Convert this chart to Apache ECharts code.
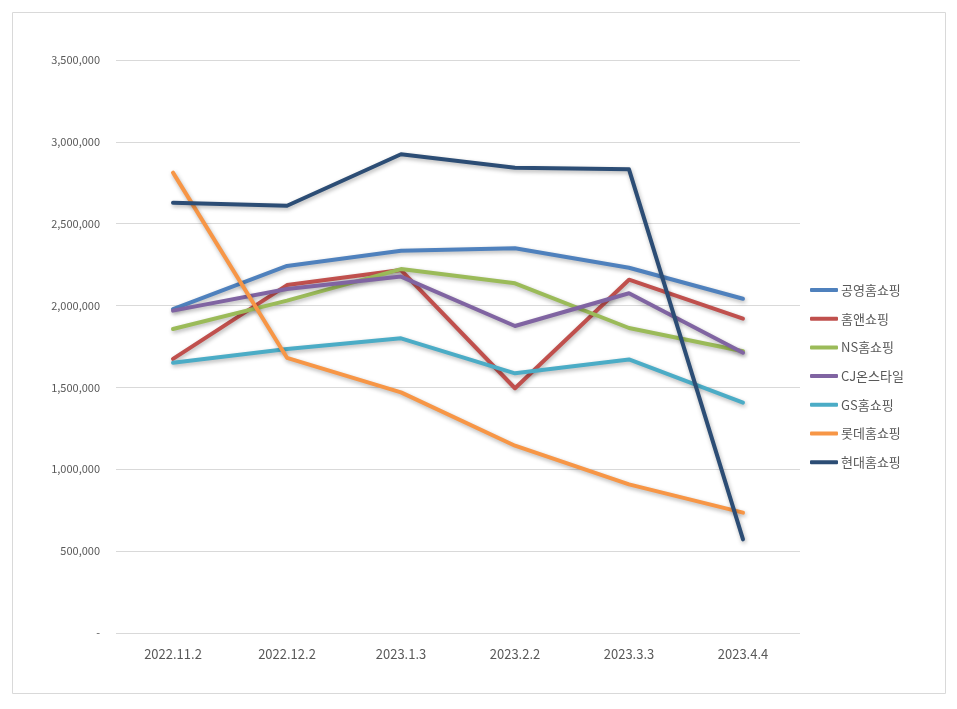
<!DOCTYPE html>
<html>
<head>
<meta charset="utf-8">
<script src="https://cdn.jsdelivr.net/npm/echarts@6/dist/echarts.min.js"></script>
<style>
html,body{margin:0;padding:0;background:#fff;}
#c{width:957px;height:709px;}
</style>
</head>
<body>
<div id="c"></div>
<script>
var categories = ['2022.11.2','2022.12.2','2023.1.3','2023.2.2','2023.3.3','2023.4.4'];
var seriesNames = ['공영홈쇼핑','홈앤쇼핑','NS홈쇼핑','CJ온스타일','GS홈쇼핑','롯데홈쇼핑','현대홈쇼핑'];
var gongyeong = [1979000, 2242000, 2335000, 2350000, 2231000, 2042000];
var homeand   = [1674000, 2125000, 2217000, 1495000, 2158000, 1920000];
var ns        = [1857000, 2030000, 2223000, 2136000, 1863000, 1721000];
var cj        = [1969000, 2101000, 2177000, 1875000, 2075000, 1712000];
var gs        = [1651000, 1735000, 1800000, 1586000, 1671000, 1407000];
var lotte     = [2812000, 1681000, 1470000, 1144000, 908000, 735000];
var hyundai   = [2628000, 2610000, 2924000, 2842000, 2832000, 572000];
var yTicks = {min: 0, max: 3500000, interval: 500000};

var values = [gongyeong, homeand, ns, cj, gs, lotte, hyundai];
var colors = ['#4F81BD','#C0504D','#9BBB59','#8064A2','#4BACC6','#F79646','#2C4D75'];
var font = '"Noto Sans CJK KR", "Noto Sans", sans-serif';

var chart = echarts.init(document.getElementById('c'), null, {renderer:'canvas'});
chart.setOption({
  animation: false,
  textStyle: {fontFamily: font},
  graphic: [{
    type: 'rect', silent: true,
    shape: {x: 12.5, y: 12.5, width: 933, height: 681},
    style: {fill: 'none', stroke: '#D9D9D9', lineWidth: 1}
  }],
  grid: {left: 116, right: 157, top: 60, bottom: 76, containLabel: false},
  legend: {
    orient: 'vertical', left: 805, top: 277,
    itemWidth: 28, itemHeight: 4, itemGap: 12.7,
    icon: 'roundRect',
    textStyle: {fontSize: 13, color: '#595959', fontFamily: font, lineHeight: 16, padding: [0,0,0,-2]},
    data: seriesNames
  },
  xAxis: {
    type: 'category', data: categories, boundaryGap: true,
    axisLine: {show: false}, axisTick: {show: false},
    axisLabel: {fontSize: 13, color: '#595959', margin: 15, fontFamily: font}
  },
  yAxis: {
    type: 'value', min: yTicks.min, max: yTicks.max, interval: yTicks.interval,
    axisLine: {show: false}, axisTick: {show: false},
    splitLine: {lineStyle: {color: '#D9D9D9', width: 1}},
    axisLabel: {
      fontSize: 11, color: '#595959', margin: 16, fontFamily: font,
      formatter: function(v){ return v === 0 ? '-' : v.toLocaleString('en-US'); }
    }
  },
  series: seriesNames.map(function(n, i){
    return {
      name: n, type: 'line', data: values[i], symbol: 'none', showSymbol: false,
      itemStyle: {color: colors[i]},
      lineStyle: {color: colors[i], width: 4, cap: 'round', join: 'round',
        shadowColor: 'rgba(0,0,0,0.3)', shadowBlur: 4, shadowOffsetY: 2, shadowOffsetX: 1}
    };
  })
});
</script>
</body>
</html>
